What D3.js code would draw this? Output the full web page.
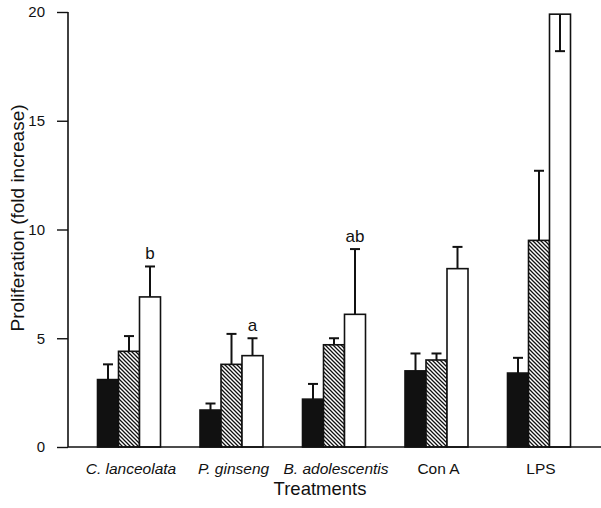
<!DOCTYPE html>
<html>
<head>
<meta charset="utf-8">
<script src="https://cdn.jsdelivr.net/npm/d3@7"></script>
<style>
  body { margin: 0; background: #fff; }
  text { font-family: "Liberation Sans", Arial, sans-serif; fill: #111; }
</style>
</head>
<body>
<svg id="chart" width="601" height="508"></svg>
<script>
// treatments on the x axis
const categories = ["C. lanceolata", "P. ginseng", "B. adolescentis", "Con A", "LPS"]
const italicCats = [true, true, true, false, false]
const series = ["black", "hatched", "white"]
// bar heights (fold increase), one array per series
const blackVals   = [3.1, 1.7, 2.2, 3.5, 3.4]
const hatchedVals = [4.4, 3.8, 4.7, 4.0, 9.5]
const whiteVals   = [6.9, 4.2, 6.1, 8.2, 19.9]
// top of error bar (or bottom, for the clipped LPS bar)
const blackErr   = [3.8, 2.0, 2.9, 4.3, 4.1]
const hatchedErr = [5.1, 5.2, 5.0, 4.3, 12.7]
const whiteErr   = [8.3, 5.0, 9.1, 9.2, 18.2]
// significance letters above white bars
const letters = ["b", "a", "ab", "", ""]
const yTicks = [0, 5, 10, 15, 20]

const svg = d3.select("#chart")

// hatch pattern for the middle series
const defs = svg.append("defs")
const pat = defs.append("pattern")
    .attr("id", "hatch")
    .attr("patternUnits", "userSpaceOnUse")
    .attr("width", 4).attr("height", 4)
pat.append("rect").attr("width", 4).attr("height", 4).attr("fill", "#fff")
pat.append("path")
    .attr("d", "M-1,-1 L5,5 M-1,3 L1,5 M3,-1 L5,1")
    .attr("stroke", "#111").attr("stroke-width", 1.3)

const x = d3.scalePoint().domain(categories).range([129, 539])
const xSub = d3.scaleBand().domain(series).range([-31.5, 31.5])
const y = d3.scaleLinear().domain([0, 20]).range([447, 12])

const fills = {black: "#111", hatched: "url(#hatch)", white: "#fff"}
const vals = {black: blackVals, hatched: hatchedVals, white: whiteVals}
const errs = {black: blackErr, hatched: hatchedErr, white: whiteErr}

const rows = []
categories.forEach((c, i) => {
    series.forEach(s => rows.push({cat: c, s: s, v: vals[s][i], e: errs[s][i]}))
})

// error bars first, so bars cover the base of the whisker
const eb = svg.append("g")
    .attr("stroke", "#111").attr("stroke-width", 2).attr("fill", "none")
rows.forEach(d => {
    const cx = x(d.cat) + xSub(d.s) + xSub.bandwidth() / 2
    eb.append("line").attr("x1", cx).attr("x2", cx)
        .attr("y1", y(d.v)).attr("y2", y(d.e))
    eb.append("line").attr("x1", cx - 5).attr("x2", cx + 5)
        .attr("y1", y(d.e)).attr("y2", y(d.e))
})

svg.append("g").selectAll("rect")
    .data(rows)
    .join("rect")
    .attr("x", d => x(d.cat) + xSub(d.s))
    .attr("y", d => y(d.v))
    .attr("width", xSub.bandwidth())
    .attr("height", d => y(0) - y(d.v))
    .attr("fill", d => fills[d.s])
    .attr("stroke", "#111")
    .attr("stroke-width", 1.6)

// whiskers that point downward (inside the bar) are drawn on top
const ebTop = svg.append("g")
    .attr("stroke", "#111").attr("stroke-width", 2)
rows.filter(d => d.e < d.v).forEach(d => {
    const cx = x(d.cat) + xSub(d.s) + xSub.bandwidth() / 2
    ebTop.append("line").attr("x1", cx).attr("x2", cx)
        .attr("y1", y(d.v)).attr("y2", y(d.e))
    ebTop.append("line").attr("x1", cx - 5).attr("x2", cx + 5)
        .attr("y1", y(d.e)).attr("y2", y(d.e))
})

// letters
svg.append("g").selectAll("text")
    .data(categories)
    .join("text")
    .attr("x", d => x(d) + xSub("white") + xSub.bandwidth() / 2)
    .attr("y", (d, i) => y(whiteErr[i]) - 7)
    .attr("text-anchor", "middle")
    .attr("font-size", 17)
    .text((d, i) => letters[i])

// y axis
const yAxis = d3.axisLeft(y).tickValues(yTicks).tickSize(11).tickPadding(12)
const ga = svg.append("g").attr("transform", "translate(68,0)").call(yAxis)
ga.select(".domain").attr("stroke", "#111").attr("stroke-width", 1.6)
    .attr("d", `M0,${y(20)}V${y(0)}`)
ga.selectAll(".tick line").attr("stroke", "#111").attr("stroke-width", 1.4)
ga.selectAll(".tick text").attr("font-size", 15)
    .attr("font-family", "Liberation Sans, Arial, sans-serif").attr("fill", "#111")

// x axis line
svg.append("line")
    .attr("x1", 68).attr("x2", 601)
    .attr("y1", y(0)).attr("y2", y(0))
    .attr("stroke", "#111").attr("stroke-width", 1.6)

// category labels
svg.append("g").selectAll("text")
    .data(categories)
    .join("text")
    .attr("x", d => x(d) + 2)
    .attr("y", 474)
    .attr("text-anchor", "middle")
    .attr("font-size", 15.5)
    .attr("font-style", (d, i) => italicCats[i] ? "italic" : "normal")
    .text(d => d)

// axis titles
svg.append("text")
    .attr("x", 320).attr("y", 495)
    .attr("text-anchor", "middle")
    .attr("font-size", 18.5)
    .text("Treatments")

svg.append("text")
    .attr("transform", "translate(24,218) rotate(-90)")
    .attr("text-anchor", "middle")
    .attr("font-size", 19)
    .text("Proliferation (fold increase)")
</script>
</body>
</html>
